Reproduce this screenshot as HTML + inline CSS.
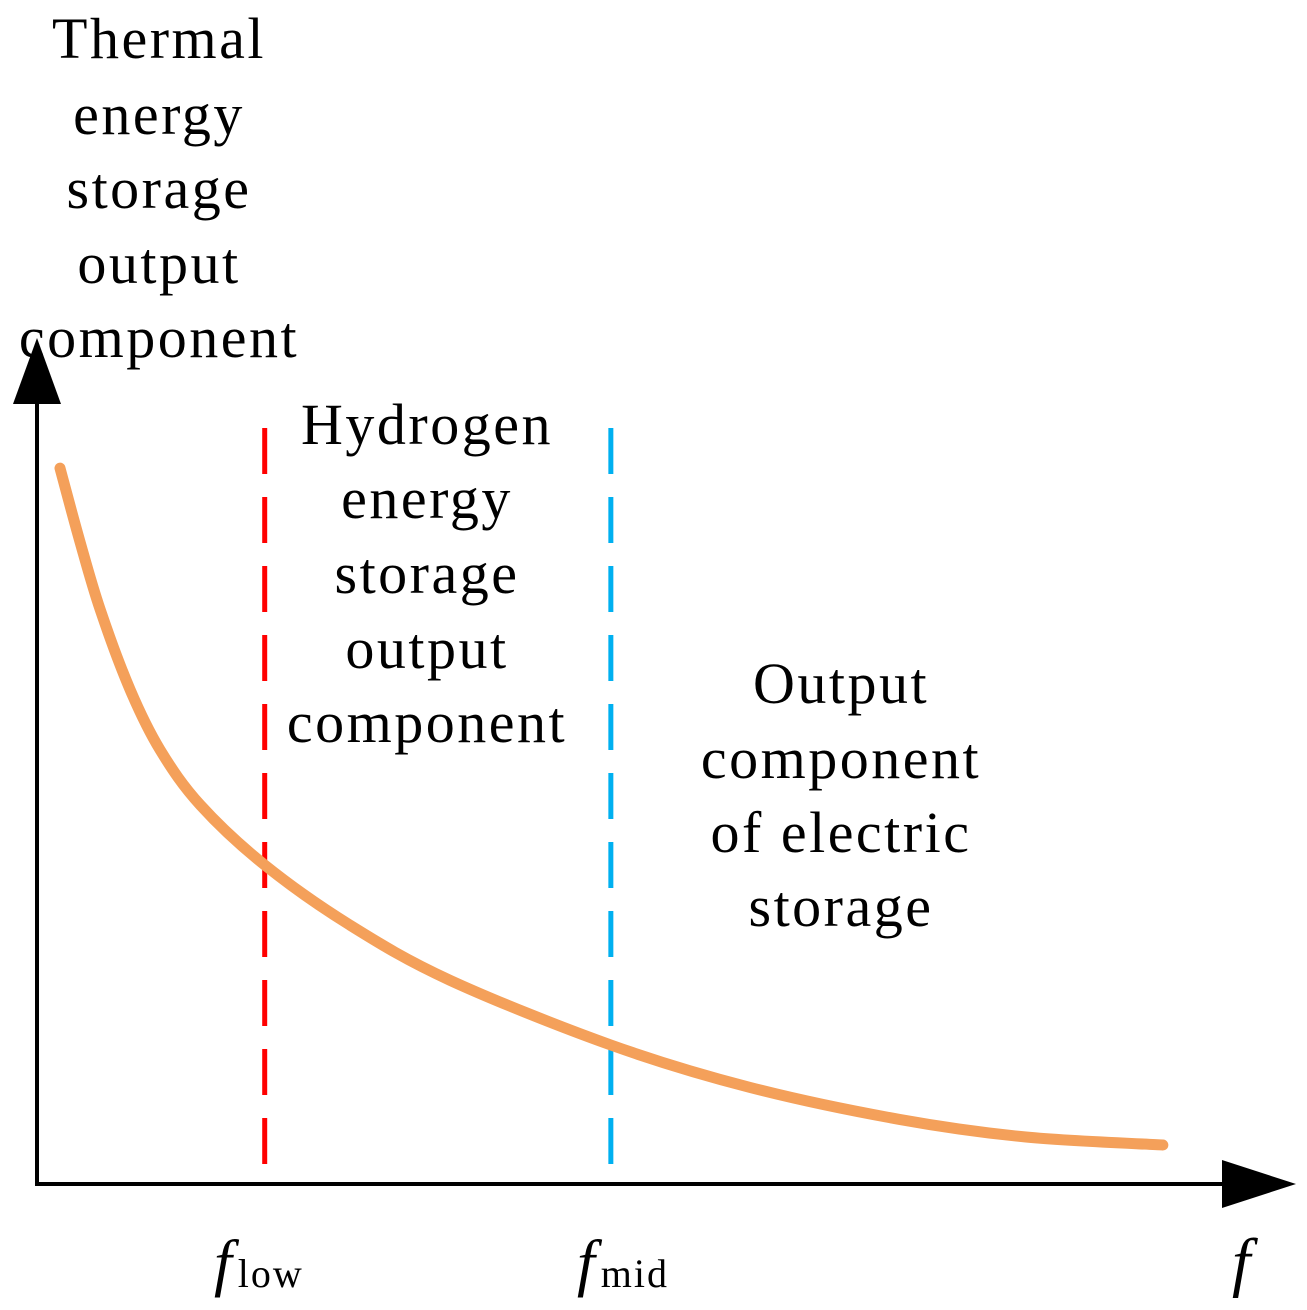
<!DOCTYPE html>
<html><head><meta charset="utf-8"><style>
html,body{margin:0;padding:0;background:#fff;}
svg{display:block;}
text{font-family:"Liberation Serif",serif;fill:#000;}
</style></head><body>
<svg id="chart" width="1307" height="1310" viewBox="0 0 1307 1310">
<g id="axes">
<line x1="37" y1="400" x2="37" y2="1186" stroke="#000" stroke-width="4"/>
<polygon points="37,338 13,404 61,404" fill="#000"/>
<line x1="35" y1="1184" x2="1230" y2="1184" stroke="#000" stroke-width="4"/>
<polygon points="1296,1184 1222,1160 1222,1208" fill="#000"/>
</g>
<g id="dividers"></g>
<path id="curve" fill="none" stroke="#F4A05A" stroke-width="11" stroke-linecap="round" stroke-linejoin="round"/>
<g font-size="58" letter-spacing="2.5" text-anchor="middle">
<text x="159" y="58">Thermal</text><text x="159" y="134">energy</text><text x="159" y="208">storage</text><text x="159" y="283">output</text><text x="159" y="357">component</text>
</g>
<g font-size="58" letter-spacing="2.5" text-anchor="middle">
<text x="427" y="444">Hydrogen</text><text x="427" y="518">energy</text><text x="427" y="593">storage</text><text x="427" y="668">output</text><text x="427" y="742">component</text>
</g>
<g font-size="58" letter-spacing="2.5" text-anchor="middle">
<text x="841" y="703">Output</text><text x="841" y="778">component</text><text x="841" y="852">of electric</text><text x="841" y="926">storage</text>
</g>
<text x="214" y="1284" font-size="64" font-style="italic">f<tspan font-size="40" font-style="normal" letter-spacing="2" dx="6" dy="3">low</tspan></text>
<text x="577" y="1284" font-size="64" font-style="italic">f<tspan font-size="40" font-style="normal" letter-spacing="2" dx="6" dy="3">mid</tspan></text>
<text x="1232" y="1284" font-size="66" font-style="italic">f</text>
</svg>
<script>
const freq = [2.0,3.7,5.5,8.1,10.7,14.2,19.8,27.2,35.9,49.9,62,75,86,97.9];
const amp = [89.6,80.6,71.9,61.9,54.4,47.5,40,32.5,25.6,17.5,12.2,8.2,6.0,5];
const dividerFreqs = [19.8,49.9];
const dividerColors = ['#FF0000','#00B0F0'];
const dividerNames = ['f-low-divider','f-mid-divider'];
function xs(f){return 37+f*11.5;}
function ys(a){return 1185-a*8;}
const pts = freq.map((f,i)=>[xs(f),ys(amp[i])]);
let d = 'M'+pts[0][0]+','+pts[0][1];
for(let i=0;i<pts.length-1;i++){
  const p0=pts[Math.max(0,i-1)],p1=pts[i],p2=pts[i+1],p3=pts[Math.min(pts.length-1,i+2)];
  const c1=[p1[0]+(p2[0]-p0[0])/6,p1[1]+(p2[1]-p0[1])/6];
  const c2=[p2[0]-(p3[0]-p1[0])/6,p2[1]-(p3[1]-p1[1])/6];
  d+=' C'+c1.join(',')+' '+c2.join(',')+' '+p2.join(',');
}
document.getElementById('curve').setAttribute('d',d);
const g=document.getElementById('dividers');


dividerFreqs.forEach((f,i)=>{
  const l=document.createElementNS('http://www.w3.org/2000/svg','line');
  
  
  l.setAttribute('x1',xs(f));l.setAttribute('x2',xs(f));
  l.setAttribute('y1',428);l.setAttribute('y2',1170);
  l.setAttribute('stroke',dividerColors[i]);l.setAttribute('stroke-width',5);
  l.setAttribute('stroke-dasharray','46 23');
  g.appendChild(l);
});
</script>
</body></html>
